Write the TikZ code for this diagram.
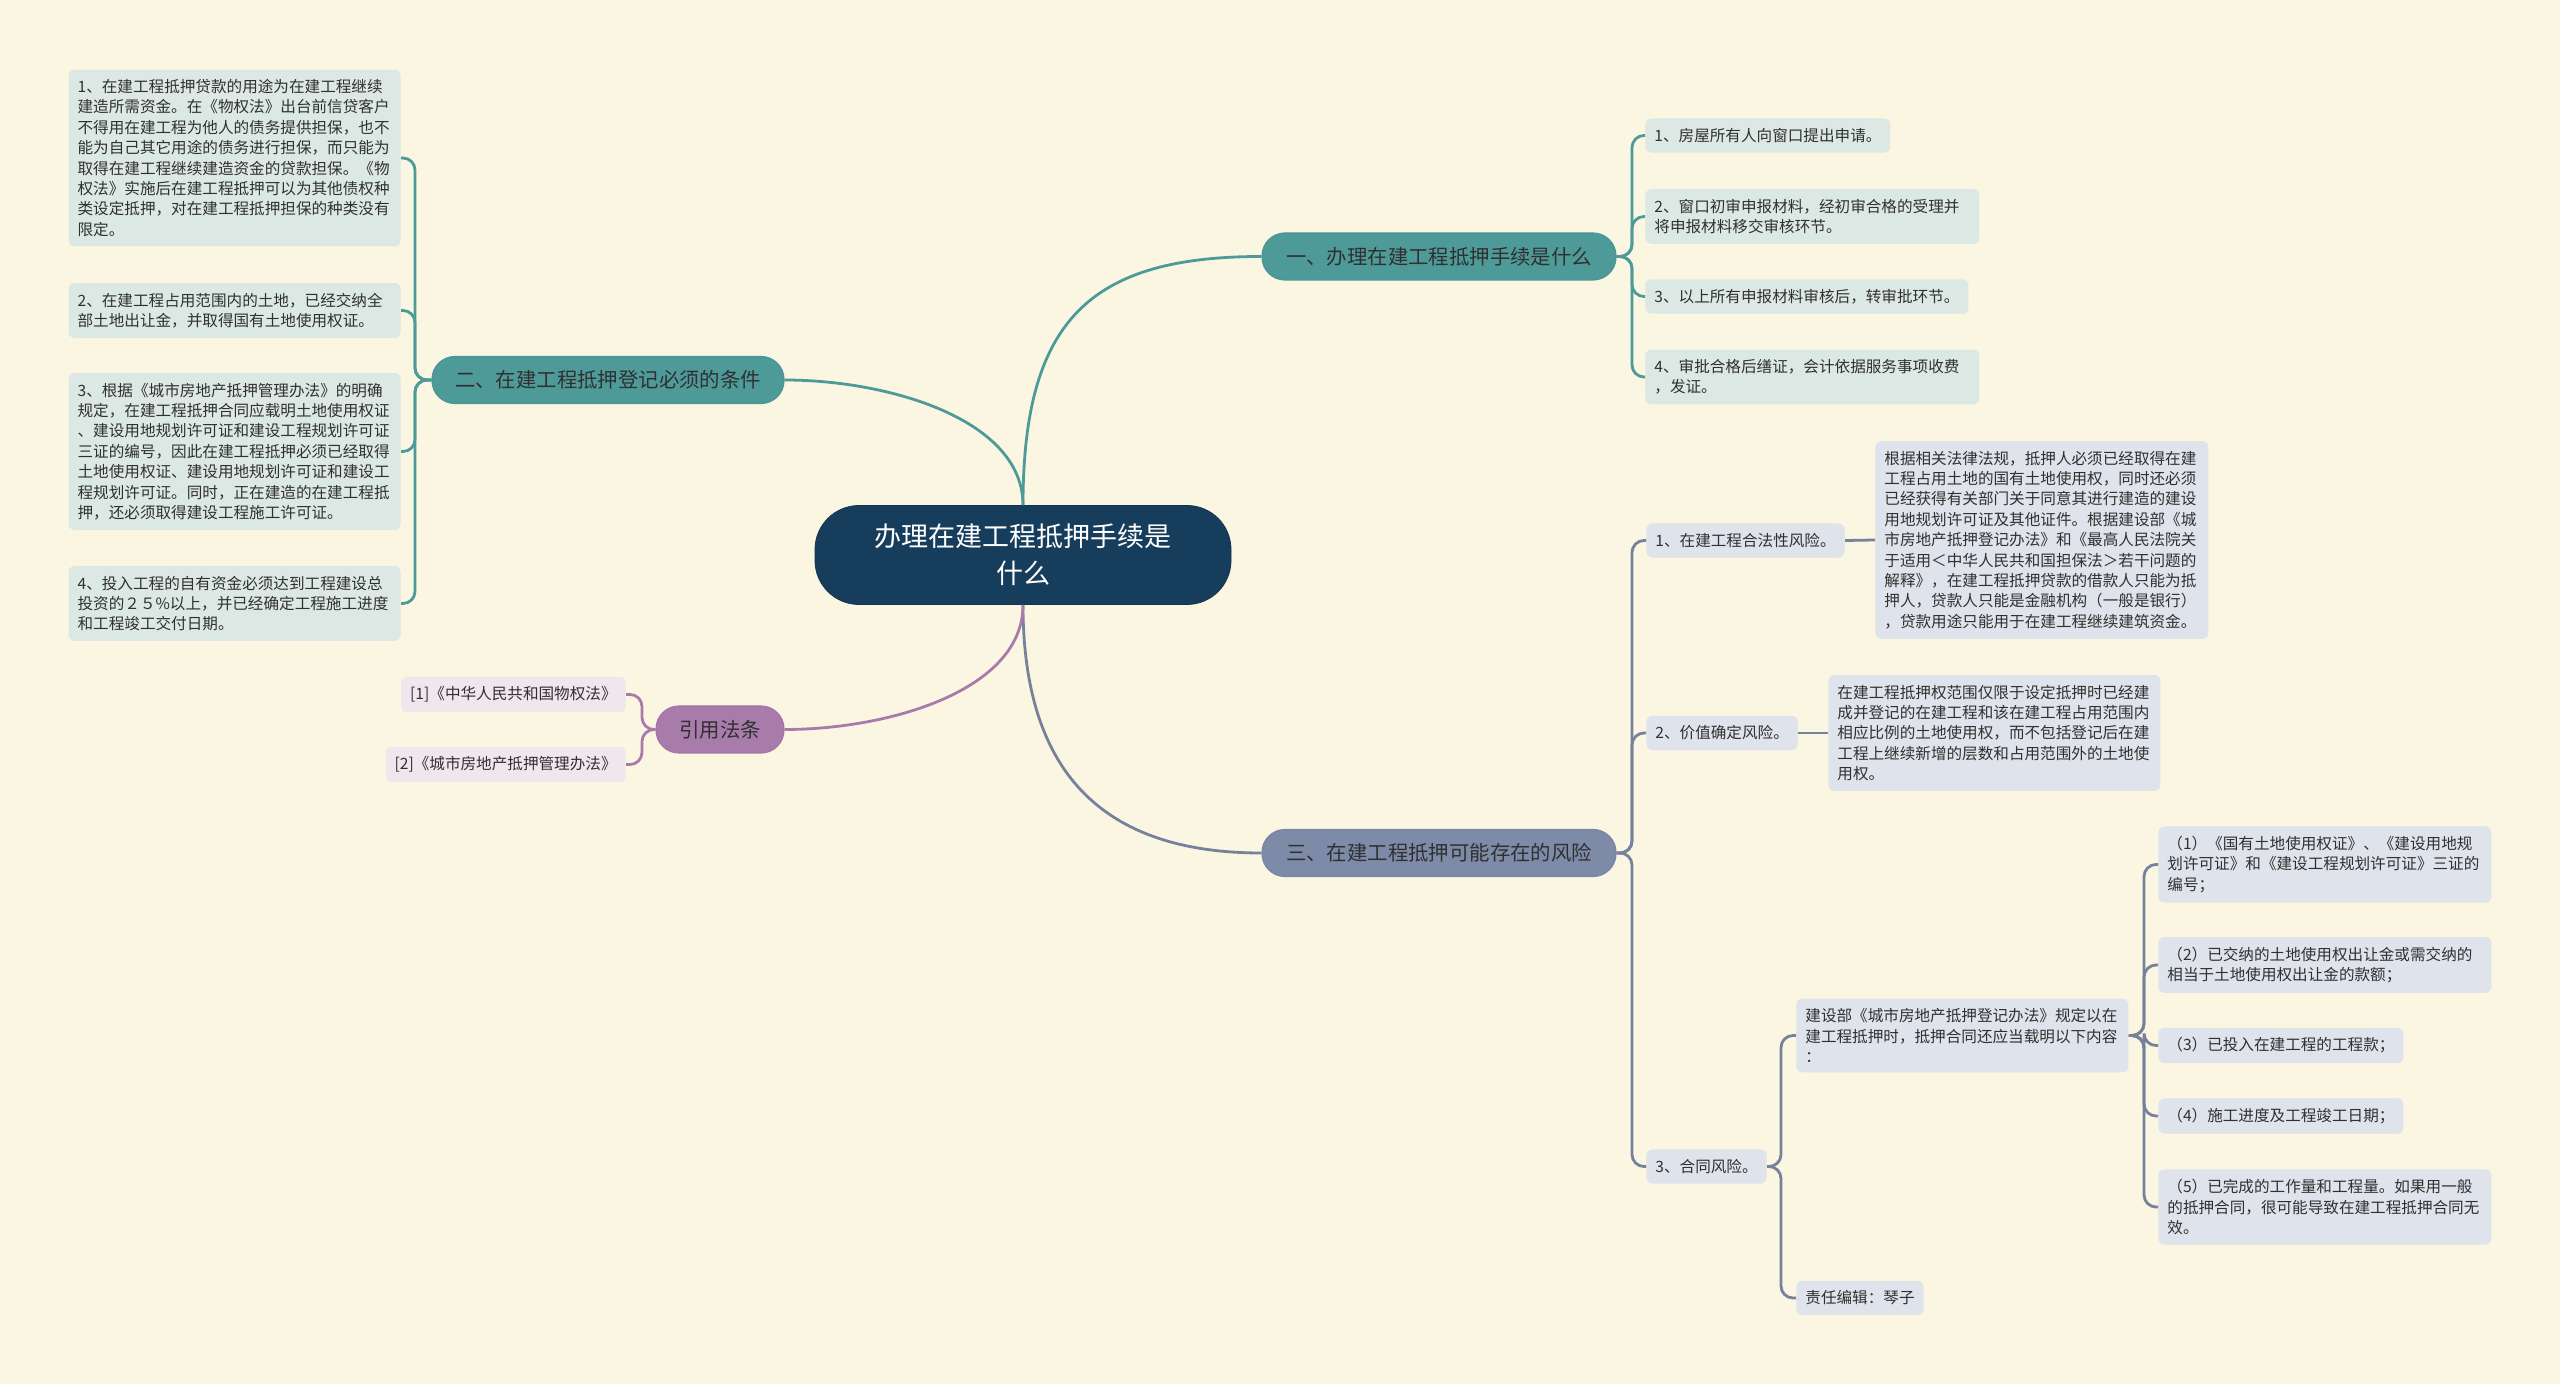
\documentclass[tikz,border=0pt]{standalone}
\usepackage{fontspec}
\setmainfont{Noto Sans CJK SC}
\definecolor{bgc}{HTML}{FBF6E2}
\definecolor{rootc}{HTML}{173D5C}
\definecolor{tealc}{HTML}{4E9A99}
\definecolor{tealb}{HTML}{4A9695}
\definecolor{slatec}{HTML}{7D8AA8}
\definecolor{slateb}{HTML}{7985A3}
\definecolor{slatel}{HTML}{76829C}
\definecolor{purpc}{HTML}{A87BAA}
\definecolor{purpb}{HTML}{A376A5}
\definecolor{tleafc}{HTML}{DCE8E4}
\definecolor{sleafc}{HTML}{DFE3EB}
\definecolor{pleafc}{HTML}{F0E6EE}
\definecolor{txtc}{HTML}{303030}
\tikzset{
  rootnode/.style={fill=rootc, draw=rootc!85!black, text=white, rounded corners=22pt,
    minimum width=208pt, minimum height=49.5pt, inner sep=0pt, align=center,
    font=\fontsize{13.5}{18.3}\selectfont},
  brnode/.style={rounded corners=11.5pt, minimum height=23.5pt, inner sep=0pt,
    text=txtc, font=\fontsize{10.2}{12}\selectfont, line width=0.6pt},
  leafbase/.style={rounded corners=3pt, inner xsep=4.5pt, inner ysep=4.9pt, align=left,
    text=txtc, font=\fontsize{7.8}{10.2}\selectfont},
  tleaf/.style={leafbase, fill=tleafc},
  sleaf/.style={leafbase, fill=sleafc},
  pleaf/.style={leafbase, fill=pleafc},
  tline/.style={draw=tealc, line width=1.4pt, rounded corners=6pt},
  sline/.style={draw=slatel, line width=1.4pt, rounded corners=6pt},
  pline/.style={draw=purpc, line width=1.4pt, rounded corners=6pt},
}
\begin{document}
\begin{tikzpicture}[x=0.5pt, y=-0.5pt]
\useasboundingbox (0,0) rectangle (2560,1384);
\fill[bgc] (0,0) rectangle (2560,1384);

% root and branches
\node[rootnode] (root) at (1023,555) {办理在建工程抵押手续是\\什么};
\node[brnode, fill=tealc, draw=tealb, minimum width=177pt] (b1) at (1439,256.5) {一、办理在建工程抵押手续是什么};
\node[brnode, fill=tealc, draw=tealb, minimum width=176pt] (b2) at (608,380) {二、在建工程抵押登记必须的条件};
\node[brnode, fill=slatec, draw=slateb, minimum width=177pt] (b3) at (1439,853) {三、在建工程抵押可能存在的风险};
\node[brnode, fill=purpc, draw=purpb, minimum width=64pt] (b4) at (720,729.5) {引用法条};

% branch 1 leaves
\node[tleaf, anchor=west] (l11) at (1645,135.5) {1、房屋所有人向窗口提出申请。};
\node[tleaf, anchor=west, text width=158pt] (l12) at (1645,216.5) {2、窗口初审申报材料，经初审合格的受理并\\将申报材料移交审核环节。};
\node[tleaf, anchor=west] (l13) at (1645,296.5) {3、以上所有申报材料审核后，转审批环节。};
\node[tleaf, anchor=west, text width=158pt] (l14) at (1645,377) {4、审批合格后缮证，会计依据服务事项收费\\，发证。};

% branch 2 leaves
\node[tleaf, anchor=east, text width=157pt] (l21) at (401,158) {1、在建工程抵押贷款的用途为在建工程继续\\建造所需资金。在《物权法》出台前信贷客户\\不得用在建工程为他人的债务提供担保，也不\\能为自己其它用途的债务进行担保，而只能为\\取得在建工程继续建造资金的贷款担保。《物\\权法》实施后在建工程抵押可以为其他债权种\\类设定抵押，对在建工程抵押担保的种类没有\\限定。};
\node[tleaf, anchor=east, text width=157pt] (l22) at (401,310.5) {2、在建工程占用范围内的土地，已经交纳全\\部土地出让金，并取得国有土地使用权证。};
\node[tleaf, anchor=east, text width=157pt] (l23) at (401,451.5) {3、根据《城市房地产抵押管理办法》的明确\\规定，在建工程抵押合同应载明土地使用权证\\、建设用地规划许可证和建设工程规划许可证\\三证的编号，因此在建工程抵押必须已经取得\\土地使用权证、建设用地规划许可证和建设工\\程规划许可证。同时，正在建造的在建工程抵\\押，还必须取得建设工程施工许可证。};
\node[tleaf, anchor=east, text width=157pt] (l24) at (401,603.5) {4、投入工程的自有资金必须达到工程建设总\\投资的２５\%以上，并已经确定工程施工进度\\和工程竣工交付日期。};

% branch 4 leaves
\node[pleaf, anchor=east] (r1) at (626,694.5) {[1]《中华人民共和国物权法》};
\node[pleaf, anchor=east] (r2) at (626,764.5) {[2]《城市房地产抵押管理办法》};

% branch 3 children
\node[sleaf, anchor=west] (c1) at (1646,540.5) {1、在建工程合法性风险。};
\node[sleaf, anchor=west, text width=157.5pt] (d1) at (1875,540) {根据相关法律法规，抵押人必须已经取得在建\\工程占用土地的国有土地使用权，同时还必须\\已经获得有关部门关于同意其进行建造的建设\\用地规划许可证及其他证件。根据建设部《城\\市房地产抵押登记办法》和《最高人民法院关\\于适用＜中华人民共和国担保法＞若干问题的\\解释》，在建工程抵押贷款的借款人只能为抵\\押人，贷款人只能是金融机构（一般是银行）\\，贷款用途只能用于在建工程继续建筑资金。};
\node[sleaf, anchor=west] (c2) at (1646,733) {2、价值确定风险。};
\node[sleaf, anchor=west, text width=157pt] (d2) at (1828,733) {在建工程抵押权范围仅限于设定抵押时已经建\\成并登记的在建工程和该在建工程占用范围内\\相应比例的土地使用权，而不包括登记后在建\\工程上继续新增的层数和占用范围外的土地使\\用权。};
\node[sleaf, anchor=west] (c3) at (1646,1166.5) {3、合同风险。};
\node[sleaf, anchor=west, text width=157pt] (a1) at (1796,1035.5) {建设部《城市房地产抵押登记办法》规定以在\\建工程抵押时，抵押合同还应当载明以下内容\\：};
\node[sleaf, anchor=west] (a2) at (1796,1298) {责任编辑：琴子};
\node[sleaf, anchor=west, text width=157.5pt] (s1) at (2158,864.5) {（1）《国有土地使用权证》、《建设用地规\\划许可证》和《建设工程规划许可证》三证的\\编号；};
\node[sleaf, anchor=west, text width=157.5pt] (s2) at (2158,965) {（2）已交纳的土地使用权出让金或需交纳的\\相当于土地使用权出让金的款额；};
\node[sleaf, anchor=west] (s3) at (2158,1045.5) {（3）已投入在建工程的工程款；};
\node[sleaf, anchor=west] (s4) at (2158,1116) {（4）施工进度及工程竣工日期；};
\node[sleaf, anchor=west, text width=157.5pt] (s5) at (2158,1207) {（5）已完成的工作量和工程量。如果用一般\\的抵押合同，很可能导致在建工程抵押合同无\\效。};

% root to branches
\draw[tline] (root.north) .. controls (1023,320) and (1090,256.5) .. (b1.west);
\draw[tline] (root.north) .. controls (1023,420) and (890,380) .. (b2.east);
\draw[sline] (root.south) .. controls (1023,770) and (1100,853) .. (b3.west);
\draw[pline] (root.south) .. controls (1023,690) and (890,729.5) .. (b4.east);

% junctions
\coordinate (t1) at (1632,256.5);
\coordinate (t2) at (415,380);
\coordinate (t3) at (1632,853);
\coordinate (t4) at (642,729.5);
\coordinate (t5) at (1781,1166.5);
\coordinate (t6) at (2144,1035.5);

\foreach \n in {l11,l12,l13,l14} \draw[tline] (b1.east) -- (t1) |- (\n.west);
\foreach \n in {l21,l22,l23,l24} \draw[tline] (b2.west) -- (t2) |- (\n.east);
\foreach \n in {r1,r2} \draw[pline] (b4.west) -- (t4) |- (\n.east);
\foreach \n in {c1,c2,c3} \draw[sline] (b3.east) -- (t3) |- (\n.west);
\foreach \n in {a1,a2} \draw[sline] (c3.east) -- (t5) |- (\n.west);
\foreach \n in {s1,s2,s3,s4,s5} \draw[sline] (a1.east) -- (t6) |- (\n.west);
\draw[sline] (c1.east) -- (d1.west);
\draw[sline] (c2.east) -- (d2.west);
\end{tikzpicture}
\end{document}
